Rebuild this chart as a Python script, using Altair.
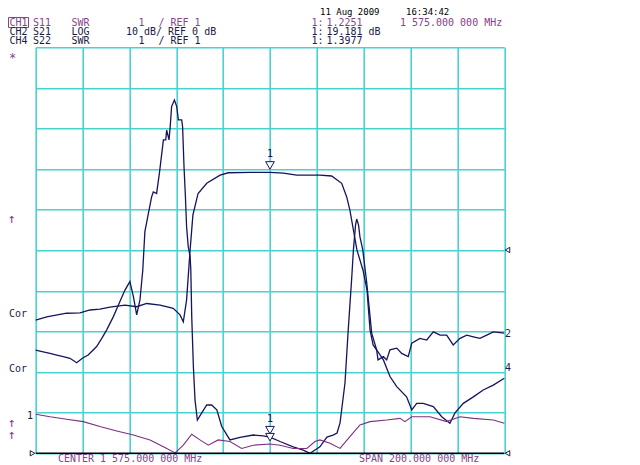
import altair as alt
import pandas as pd

# ---------------- data ----------------
# CH2  S21  LOG 10 dB/div, REF 0 dB
s21_freq = [1475.0, 1479.7, 1488.2, 1493.9, 1498.2, 1502.4, 1506.7, 1513.1, 1518.1, 1522.4,
            1528.1, 1533.7, 1536.6, 1538.0, 1539.4, 1540.9, 1542.1, 1544.3, 1548.0, 1553.7,
            1557.2, 1566.5, 1575.0, 1580.7, 1586.4, 1596.3, 1601.3, 1605.6, 1607.7, 1609.1,
            1610.6, 1612.1, 1614.7, 1616.4, 1617.7, 1619.0, 1620.5, 1621.1, 1623.4, 1624.8,
            1626.2, 1629.1, 1631.2, 1634.0, 1635.5, 1639.0, 1641.9, 1644.7, 1647.6, 1650.4,
            1653.2, 1656.1, 1659.0, 1661.8, 1664.6, 1667.5, 1670.3, 1675.0]
s21_db = [-17.2, -16.4, -15.5, -15.4, -14.7, -14.5, -14.0, -13.5, -13.9, -13.1,
          -13.5, -14.3, -15.9, -17.6, -12.2, 0.1, 8.7, 14.0, 16.5, 18.5,
          19.1, 19.2, 19.18, 19.0, 18.5, 18.5, 18.3, 16.5, 13.2, 9.9,
          5.0, 0.1, -4.9, -9.8, -19.6, -23.3, -24.5, -27.0, -26.2, -27.0,
          -24.5, -24.1, -25.4, -26.2, -22.9, -21.7, -22.1, -20.1, -20.9, -20.9,
          -23.3, -21.7, -20.9, -21.3, -21.7, -20.9, -20.1, -20.4]

# CH4  S22  SWR 1/div, REF 1
s22_freq = [1475.0, 1478.2, 1481.1, 1484.0, 1486.8, 1489.6, 1492.5, 1494.9, 1497.4, 1501.0,
            1503.2, 1505.3, 1508.1, 1510.3, 1513.1, 1515.2, 1516.7, 1518.1, 1519.5, 1520.7,
            1521.6, 1523.1, 1524.5, 1525.2, 1526.6, 1527.8, 1529.5, 1530.5, 1530.9, 1531.9,
            1532.4, 1533.0, 1534.2, 1535.2, 1535.9, 1537.3, 1537.7, 1538.3, 1538.9, 1539.4,
            1540.1, 1540.9, 1541.2, 1541.6, 1542.3, 1543.0, 1544.0, 1545.8, 1548.0, 1550.1,
            1552.3, 1554.4, 1557.9, 1562.2, 1567.9, 1572.1, 1575.0, 1579.3, 1584.9, 1589.2,
            1592.1, 1594.2, 1596.3, 1599.3, 1601.9, 1603.6, 1604.9, 1607.0, 1608.3, 1609.9,
            1610.6, 1611.5, 1612.0, 1612.8, 1613.4, 1614.6, 1616.3, 1618.4, 1620.5, 1623.4,
            1626.2, 1629.1, 1633.3, 1635.5, 1637.6, 1640.4, 1644.7, 1648.3, 1651.8, 1653.9,
            1657.5, 1661.8, 1666.0, 1670.3, 1675.0]
s22_swr = [3.54, 3.50, 3.46, 3.42, 3.38, 3.34, 3.23, 3.34, 3.42, 3.63,
           3.83, 4.04, 4.36, 4.65, 5.02, 5.23, 4.86, 4.41, 4.78, 5.51,
           6.46, 6.91, 7.32, 7.44, 7.40, 7.90, 8.72, 8.72, 8.96, 8.72,
           9.04, 9.54, 9.70, 9.54, 9.21, 9.21, 9.04, 8.06, 7.32, 6.58,
           6.09, 5.85, 5.52, 4.36, 3.13, 2.31, 1.82, 1.99, 2.19, 2.19,
           2.07, 1.66, 1.33, 1.39, 1.45, 1.43, 1.40, 1.29, 1.16, 1.08,
           1.00, 1.08, 1.16, 1.40, 1.45, 1.50, 1.75, 2.73, 3.96, 5.34,
           6.01, 6.62, 6.77, 6.62, 6.33, 6.01, 5.19, 3.96, 3.55, 3.30,
           2.89, 2.64, 2.39, 2.07, 2.23, 2.23, 2.15, 1.90, 1.74, 1.99,
           2.23, 2.39, 2.56, 2.68, 2.85]

# CH1  S11  SWR 1/div, REF 1
s11_freq = [1475.0, 1481.1, 1488.2, 1495.3, 1502.4, 1509.6, 1516.7, 1523.8, 1529.5, 1534.5,
            1538.0, 1541.6, 1545.1, 1548.7, 1552.9, 1557.9, 1562.9, 1567.9, 1575.0, 1579.3,
            1584.9, 1590.7, 1594.2, 1596.3, 1600.6, 1604.9, 1609.1, 1613.4, 1617.7, 1624.8,
            1630.5, 1632.6, 1635.5, 1643.3, 1650.4, 1656.1, 1661.8, 1670.3, 1675.0]
s11_swr = [1.96, 1.90, 1.84, 1.78, 1.66, 1.55, 1.45, 1.33, 1.16, 1.01,
           1.20, 1.47, 1.33, 1.20, 1.33, 1.29, 1.12, 1.20, 1.23, 1.20,
           1.12, 1.12, 1.29, 1.33, 1.25, 1.12, 1.41, 1.70, 1.78, 1.82,
           1.86, 1.78, 1.90, 1.90, 1.78, 1.90, 1.86, 1.82, 1.74]

# marker 1 readouts
marker_freq = 1575.0
marker_s11 = 1.2251
marker_s21 = 19.181
marker_s22 = 1.3977

# grid: 10 divisions each way
x_grid = [1475, 1495, 1515, 1535, 1555, 1575, 1595, 1615, 1635, 1655, 1675]
db_grid = [-50, -40, -30, -20, -10, 0, 10, 20, 30, 40, 50]

# ---------------- styling ----------------
W, H = 468.6, 406.0
OX, OY = 35.7, 47.3          # page position of the plot origin
NAVY = "#15155e"
PURPLE = "#7d2f80"
PTXT = "#8a3f8c"
DTXT = "#1c1c44"
CYAN = "#48d2d2"
FONT = "DejaVu Sans Mono"
FS = 10

xscale = alt.Scale(domain=[1475, 1675], nice=False, zero=False)
dbscale = alt.Scale(domain=[-50, 50], nice=False, zero=False)
swrscale = alt.Scale(domain=[1, 11], nice=False, zero=False)

xaxis = alt.Axis(values=x_grid, grid=True, labels=False, ticks=False, domain=False,
                 title=None, gridColor=CYAN, gridWidth=1.6, gridOpacity=1)

df21 = pd.DataFrame({"freq": s21_freq, "val": s21_db})
df22 = pd.DataFrame({"freq": s22_freq, "val": s22_swr})
df11 = pd.DataFrame({"freq": s11_freq, "val": s11_swr})

s21_line = alt.Chart(df21).mark_line(color=NAVY, strokeWidth=1.3).encode(
    x=alt.X("freq:Q", scale=xscale, axis=xaxis),
    y=alt.Y("val:Q", scale=dbscale,
            axis=alt.Axis(values=db_grid, grid=True, labels=False, ticks=False,
                          domain=False, title=None, gridColor=CYAN, gridWidth=1.6,
                          gridOpacity=1)),
    order="freq:Q",
)
s22_line = alt.Chart(df22).mark_line(color=NAVY, strokeWidth=1.3).encode(
    x=alt.X("freq:Q", scale=xscale, axis=xaxis),
    y=alt.Y("val:Q", scale=swrscale, axis=None),
)
s11_line = alt.Chart(df11).mark_line(color=PURPLE, strokeWidth=1.1).encode(
    x=alt.X("freq:Q", scale=xscale, axis=xaxis),
    y=alt.Y("val:Q", scale=swrscale, axis=None),
)

mk21 = pd.DataFrame({"freq": [marker_freq], "val": [marker_s21]})
mkswr = pd.DataFrame({"freq": [marker_freq, marker_freq], "val": [marker_s22, marker_s11]})

m21_tri = alt.Chart(mk21).mark_point(shape="triangle-down", size=75, filled=True,
                                      fill="white", stroke=NAVY, strokeWidth=1,
                                      opacity=1, yOffset=-7).encode(
    x=alt.X("freq:Q", scale=xscale, axis=xaxis),
    y=alt.Y("val:Q", scale=dbscale, axis=None))
m21_txt = alt.Chart(mk21).mark_text(text="1", font=FONT, fontSize=10, color=NAVY,
                                    yOffset=-18).encode(
    x=alt.X("freq:Q", scale=xscale, axis=xaxis),
    y=alt.Y("val:Q", scale=dbscale, axis=None))
mswr_tri = alt.Chart(mkswr).mark_point(shape="triangle-down", size=75, filled=True,
                                        fill="white", stroke=NAVY, strokeWidth=1,
                                        opacity=1, yOffset=-7).encode(
    x=alt.X("freq:Q", scale=xscale, axis=xaxis),
    y=alt.Y("val:Q", scale=swrscale, axis=None))
mswr_txt = alt.Chart(mkswr.iloc[[0]]).mark_text(text="1", font=FONT, fontSize=10,
                                                 color=NAVY, yOffset=-18).encode(
    x=alt.X("freq:Q", scale=xscale, axis=xaxis),
    y=alt.Y("val:Q", scale=swrscale, axis=None))

dummy = pd.DataFrame({"a": [0]})


def label(text, px, py, color, size=FS, align="left", baseline="alphabetic"):
    return alt.Chart(dummy).mark_text(text=text, font=FONT, fontSize=size, color=color,
                                      align=align, baseline=baseline).encode(
        x=alt.value(px - OX), y=alt.value(py - OY))


def tri(shape, px, py, color):
    return alt.Chart(dummy).mark_point(shape=shape, size=28, filled=False, color=color,
                                       strokeWidth=1, opacity=1).encode(
        x=alt.value(px - OX), y=alt.value(py - OY))


bottom_rule = alt.Chart(dummy).mark_rule(color="black", strokeWidth=1.5).encode(
    x=alt.value(0), x2=alt.value(W), y=alt.value(H))

ch1_box = alt.Chart(dummy).mark_rect(fill="white", fillOpacity=0, stroke=PTXT,
                                     strokeWidth=1).encode(
    x=alt.value(8.5 - OX), x2=alt.value(28.5 - OX), y=alt.value(17.5 - OY), y2=alt.value(27.5 - OY))

texts = [
    label("11 Aug 2009", 320, 15.5, "black", size=9),
    label("16:34:42", 406, 15.5, "black", size=9),
    # row CH1
    label("CH1", 9.5, 26, PTXT),
    label("S11", 33, 26, PTXT),
    label("SWR", 71.5, 26, PTXT),
    label("1", 138.5, 26, PTXT),
    label("/ REF 1", 158.5, 26, PTXT),
    label("1:", 311.5, 26, PTXT),
    label("1.2251", 326.5, 26, PTXT),
    label("1 575.000 000 MHz", 400, 26, PTXT),
    # row CH2
    label("CH2", 9.5, 35.5, DTXT),
    label("S21", 33, 35.5, DTXT),
    label("LOG", 71.5, 35.5, DTXT),
    label("10 dB/ REF 0 dB", 126, 35.5, DTXT),
    label("1:", 311.5, 35.5, DTXT),
    label("19.181 dB", 326.5, 35.5, DTXT),
    # row CH4
    label("CH4", 9.5, 44.5, DTXT),
    label("S22", 33, 44.5, DTXT),
    label("SWR", 71.5, 44.5, DTXT),
    label("1", 138.5, 44.5, DTXT),
    label("/ REF 1", 158.5, 44.5, DTXT),
    label("1:", 311.5, 44.5, DTXT),
    label("1.3977", 326.5, 44.5, DTXT),
    # left side
    label("*", 9, 62, PTXT, size=12),
    label("\u2191", 12, 219, PTXT, size=13, align="center", baseline="middle"),
    label("Cor", 9, 314, DTXT, baseline="middle"),
    label("Cor", 9, 369, DTXT, baseline="middle"),
    label("1", 30, 416.5, DTXT, align="center", baseline="middle"),
    label("\u2191", 12, 423, PTXT, size=13, align="center", baseline="middle"),
    label("\u2191", 12, 435.5, PTXT, size=13, align="center", baseline="middle"),
    # right side
    label("2", 505, 334, DTXT, baseline="middle"),
    label("4", 505, 368, DTXT, baseline="middle"),
    # bottom
    label("CENTER 1 575.000 000 MHz", 58, 462.5, PTXT),
    label("SPAN  200.000 000 MHz", 359, 462.5, PTXT),
]

tris = [
    tri("triangle-right", 32.5, 453.3, DTXT),
    tri("triangle-left", 507.5, 250, DTXT),
    tri("triangle-left", 507.5, 453.3, DTXT),
]

chart = alt.layer(
    s21_line, s22_line, s11_line, bottom_rule,
    m21_tri, m21_txt, mswr_tri, mswr_txt,
    ch1_box, *texts, *tris,
).resolve_scale(y="independent").properties(
    width=W, height=H,
    autosize=alt.AutoSizeParams(type="none"),
    padding={"left": OX - 8, "top": OY - 8, "right": 90, "bottom": 16},
    background="white",
).configure_view(stroke=None)

chart.save("out.html", embed_options={"renderer": "svg", "actions": False})
